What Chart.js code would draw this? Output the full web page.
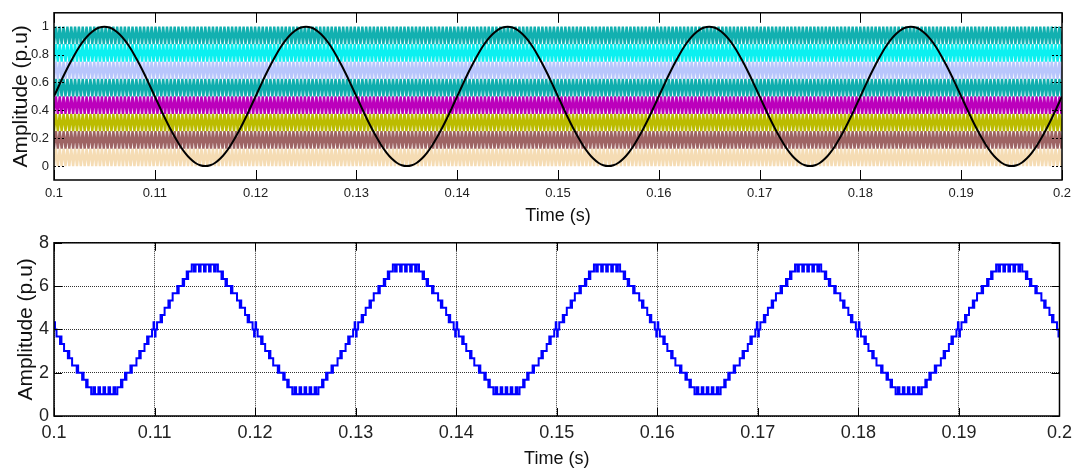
<!DOCTYPE html>
<html>
<head>
<meta charset="utf-8">
<title>Carriers and output voltage</title>
<script src="https://cdn.jsdelivr.net/npm/chart.js@4.4.1/dist/chart.umd.min.js"></script>
<style>
  html, body { margin: 0; padding: 0; background: #fff; }
  #wrap { position: relative; width: 1078px; height: 471px; }
  canvas { position: absolute; left: 0; }
  #carrierChart { top: 0; }
  #outputChart { top: 227px; }
</style>
</head>
<body>
<div id="wrap">
  <canvas id="carrierChart" width="1078" height="227"></canvas>
  <canvas id="outputChart" width="1078" height="244"></canvas>
</div>
<script>
// ---- data ----
const timeTicks = [0.1, 0.11, 0.12, 0.13, 0.14, 0.15, 0.16, 0.17, 0.18, 0.19, 0.2];
const carrierYTicks = [0, 0.2, 0.4, 0.6, 0.8, 1];
const outputYTicks = [0, 2, 4, 6, 8];

// level-shifted triangular carriers, top band first
const carrierLow  = [0.875, 0.75, 0.625, 0.5, 0.375, 0.25, 0.125, 0];
const carrierHigh = [1, 0.875, 0.75, 0.625, 0.5, 0.375, 0.25, 0.125];
const carrierColors = ['#12B0B0', '#0CF0F0', '#B8C6FC', '#10AEAE', '#BC00BC', '#BCBC00', '#9E6464', '#F5DCB4'];
const carrierPeriodMs = 0.38;

// reference wave, one 20 ms cycle sampled every 0.5 ms
const refSamples = [
  0.5, 0.578, 0.655, 0.727, 0.794, 0.854, 0.905, 0.946, 0.976, 0.994,
  1, 0.994, 0.976, 0.946, 0.905, 0.854, 0.794, 0.727, 0.655, 0.578,
  0.5, 0.422, 0.345, 0.273, 0.206, 0.146, 0.095, 0.054, 0.024, 0.006,
  0, 0.006, 0.024, 0.054, 0.095, 0.146, 0.206, 0.273, 0.345, 0.422
];
const refStepMs = 0.5;
const cycleMs = 20;
const cycles = 5;

// output staircase over one cycle: switching instant (ms) and level
const stairTimesMs = [
  0.00, 0.04, 0.10, 0.25, 0.60, 0.68, 0.74, 1.00, 1.38, 1.46, 1.52, 1.80, 2.26, 2.34, 2.40,
  2.80, 2.88, 2.94, 3.20, 3.28, 3.34, 3.70, 3.92, 4.08, 4.42, 4.58, 4.92, 5.08, 5.42, 5.58,
  5.92, 6.08, 6.30, 6.66, 6.72, 6.80, 7.06, 7.12, 7.20, 7.60, 7.66, 7.74, 8.20, 8.48, 8.54,
  8.62, 9.00, 9.26, 9.32, 9.40, 9.75, 9.90, 9.96,
  10.00, 10.04, 10.10, 10.25, 10.60, 10.68, 10.74, 11.00, 11.38, 11.46, 11.52, 11.80, 12.26, 12.34, 12.40,
  12.80, 12.88, 12.94, 13.20, 13.28, 13.34, 13.70, 13.92, 14.08, 14.42, 14.58, 14.92, 15.08, 15.42, 15.58,
  15.92, 16.08, 16.30, 16.66, 16.72, 16.80, 17.06, 17.12, 17.20, 17.60, 17.66, 17.74, 18.20, 18.48, 18.54,
  18.62, 19.00, 19.26, 19.32, 19.40, 19.75, 19.90, 19.96
];
const stairLevels = [
  4.00, 4.33, 4.00, 3.67, 3.33, 3.67, 3.33, 3.00, 2.67, 3.00, 2.67, 2.33, 2.00, 2.33, 2.00,
  1.67, 2.00, 1.67, 1.33, 1.67, 1.33, 1.00, 1.33, 1.00, 1.33, 1.00, 1.33, 1.00, 1.33, 1.00,
  1.33, 1.00, 1.33, 1.67, 1.33, 1.67, 2.00, 1.67, 2.00, 2.33, 2.00, 2.33, 2.67, 3.00, 2.67,
  3.00, 3.33, 3.67, 3.33, 3.67, 4.00, 4.33, 4.00,
  4.00, 3.67, 4.00, 4.33, 4.67, 4.33, 4.67, 5.00, 5.33, 5.00, 5.33, 5.67, 6.00, 5.67, 6.00,
  6.33, 6.00, 6.33, 6.67, 6.33, 6.67, 7.00, 6.67, 7.00, 6.67, 7.00, 6.67, 7.00, 6.67, 7.00,
  6.67, 7.00, 6.67, 6.33, 6.67, 6.33, 6.00, 6.33, 6.00, 5.67, 6.00, 5.67, 5.33, 5.00, 5.33,
  5.00, 4.67, 4.33, 4.67, 4.33, 4.00, 3.67, 4.00
];

const startTime = 0.1;
const endTime = 0.2;

// ---- point builders ----
function carrierPoints(lo, hi) {
  const pts = [];
  const halfMs = carrierPeriodMs / 2;
  const n = Math.ceil((endTime - startTime) * 1000 / halfMs);
  for (let k = 0; k <= n; k++) {
    pts.push({ x: startTime + k * halfMs / 1000, y: k % 2 ? hi : lo });
  }
  return pts;
}

function cyclePoints(timesMs, values) {
  const pts = [];
  for (let c = 0; c < cycles; c++) {
    timesMs.forEach((t, i) => {
      pts.push({ x: startTime + (c * cycleMs + t) / 1000, y: values[i] });
    });
  }
  pts.push({ x: endTime, y: values[0] });
  return pts;
}

const refTimesMs = refSamples.map((_, i) => i * refStepMs);

// ---- shared styling ----
const font = "'Liberation Sans', Arial, Helvetica, sans-serif";
const fmt = v => String(Math.round(v * 1000) / 1000);

// frame round the plot area plus short inward tick marks on all four sides
const frameTicks = {
  id: 'frameTicks',
  afterDatasetsDraw(chart, args, opts) {
    const { ctx, chartArea: a, scales } = chart;
    const len = opts.len;
    ctx.save();
    ctx.strokeStyle = '#000';
    ctx.lineWidth = 1;
    ctx.beginPath();
    timeTicks.forEach(v => {
      const px = Math.round(scales.x.getPixelForValue(v)) + 0.5;
      ctx.moveTo(px, a.bottom);
      ctx.lineTo(px, a.bottom - len);
      ctx.moveTo(px, a.top);
      ctx.lineTo(px, a.top + len);
    });
    ctx.stroke();
    ctx.setLineDash(opts.yDash || []);
    ctx.beginPath();
    opts.yTicks.forEach(v => {
      const py = Math.round(scales.y.getPixelForValue(v)) + 0.5;
      ctx.moveTo(a.left, py);
      ctx.lineTo(a.left + len, py);
      ctx.moveTo(a.right, py);
      ctx.lineTo(a.right - len, py);
    });
    ctx.stroke();
    ctx.setLineDash([]);
    ctx.lineWidth = 1.5;
    ctx.strokeRect(a.left, a.top, a.width, a.height);
    ctx.restore();
  }
};

function timeAxis(tickSize, xHeight, withGrid) {
  return {
    type: 'linear',
    min: startTime,
    max: endTime,
    afterBuildTicks: s => { s.ticks = timeTicks.map(v => ({ value: v })); },
    afterFit: s => { s.height = xHeight; },
    grid: withGrid
      ? { display: true, drawTicks: false, color: '#333', lineWidth: 1 }
      : { display: false, drawTicks: false },
    border: { display: false, dash: [1, 1] },
    ticks: {
      font: { family: font, size: tickSize },
      color: '#222',
      padding: 6,
      maxRotation: 0,
      autoSkip: false,
      callback: fmt
    },
    title: {
      display: true,
      text: 'Time (s)',
      font: { family: font, size: 18 },
      color: '#111',
      padding: 0
    }
  };
}

function amplitudeAxis(min, max, tickValues, tickSize, titlePad, withGrid) {
  return {
    min: min,
    max: max,
    afterBuildTicks: s => { s.ticks = tickValues.map(v => ({ value: v })); },
    afterFit: s => { s.width = 54; },
    grid: withGrid
      ? { display: true, drawTicks: false, color: '#333', lineWidth: 1 }
      : { display: false, drawTicks: false },
    border: { display: false, dash: [1, 1] },
    ticks: {
      font: { family: font, size: tickSize },
      color: '#222',
      padding: 5,
      callback: fmt
    },
    title: {
      display: true,
      text: 'Amplitude (p.u)',
      font: { family: font, size: 21 },
      color: '#111',
      padding: { top: titlePad, bottom: 0 }
    }
  };
}

// ---- top: reference against the carriers ----
const carrierSets = carrierLow.map((lo, i) => ({
  data: carrierPoints(lo, carrierHigh[i]),
  borderColor: carrierColors[i],
  borderWidth: 2.4,
  borderJoinStyle: 'bevel',
  pointRadius: 0,
  tension: 0
}));

new Chart(document.getElementById('carrierChart'), {
  type: 'line',
  data: {
    datasets: [{
      data: cyclePoints(refTimesMs, refSamples),
      borderColor: '#000',
      borderWidth: 2,
      pointRadius: 0,
      cubicInterpolationMode: 'monotone'
    }].concat(carrierSets)
  },
  options: {
    responsive: false,
    animation: false,
    events: [],
    layout: { padding: { top: 8, right: 16, left: 0, bottom: 0 } },
    plugins: {
      legend: { display: false },
      tooltip: { enabled: false },
      frameTicks: { len: 10, yTicks: carrierYTicks, yDash: [2, 2] }
    },
    scales: {
      x: timeAxis(13, 47, false),
      y: amplitudeAxis(-0.1, 1.1, carrierYTicks, 13, 9, false)
    }
  },
  plugins: [frameTicks]
});

// ---- bottom: multilevel output ----
new Chart(document.getElementById('outputChart'), {
  type: 'line',
  data: {
    datasets: [{
      data: cyclePoints(stairTimesMs, stairLevels),
      borderColor: '#0000FF',
      borderWidth: 2,
      pointRadius: 0,
      stepped: true
    }]
  },
  options: {
    responsive: false,
    animation: false,
    events: [],
    layout: { padding: { top: 10, right: 16, left: 0, bottom: 1 } },
    plugins: {
      legend: { display: false },
      tooltip: { enabled: false },
      frameTicks: { len: 8, yTicks: outputYTicks }
    },
    scales: {
      x: timeAxis(18, 54, true),
      y: amplitudeAxis(0, 8, outputYTicks, 18, 14, true)
    }
  },
  plugins: [frameTicks]
});
</script>
</body>
</html>
